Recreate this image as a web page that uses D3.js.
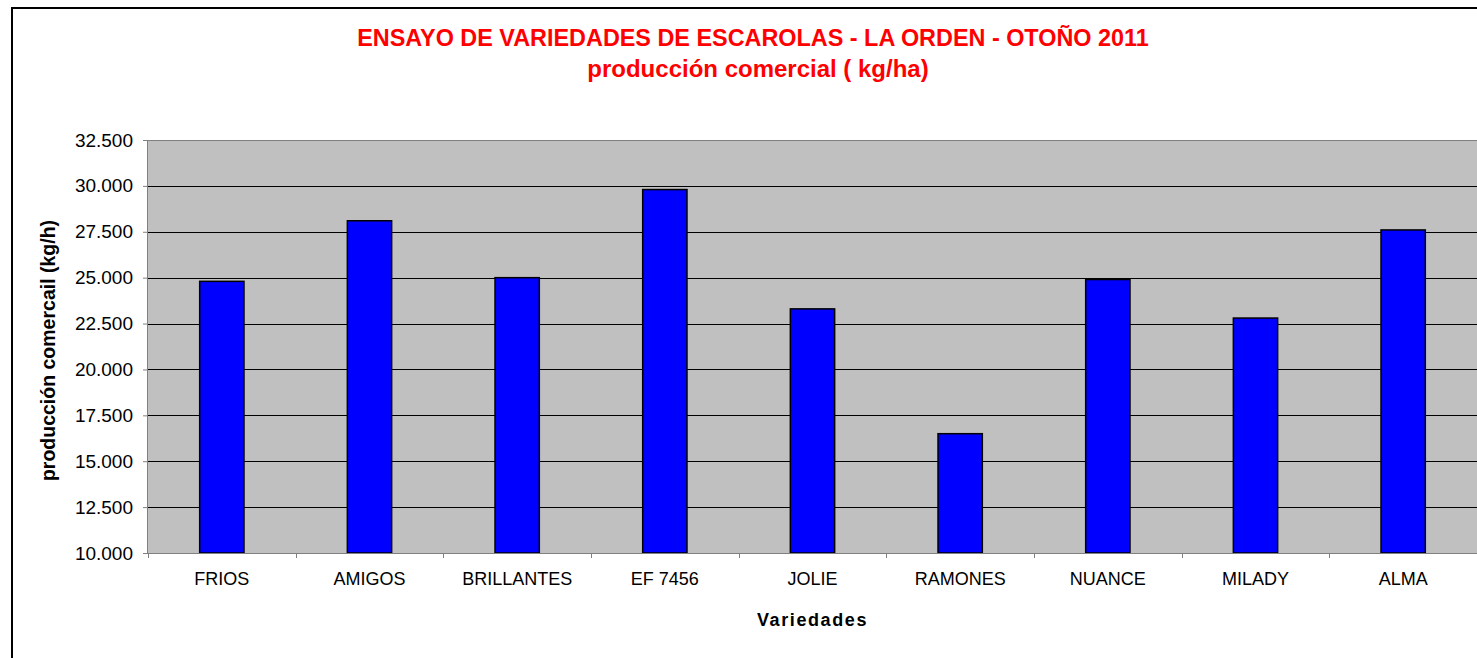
<!DOCTYPE html>
<html>
<head>
<meta charset="utf-8">
<script src="https://d3js.org/d3.v7.min.js"></script>
<style>
    body { margin: 0; background: #fff; }
    text { font-family: "Liberation Sans", Arial, sans-serif; }
</style>
</head>
<body>
<svg id="chart" width="1477" height="658"></svg>
<script>
var categories = ["FRIOS", "AMIGOS", "BRILLANTES", "EF 7456", "JOLIE", "RAMONES", "NUANCE", "MILADY", "ALMA"];
var production = [24800, 28100, 25000, 29800, 23300, 16500, 24900, 22800, 27600];
var yTicks = [10000, 12500, 15000, 17500, 20000, 22500, 25000, 27500, 30000, 32500];
var titleLines = ["ENSAYO DE VARIEDADES DE ESCAROLAS - LA ORDEN - OTOÑO 2011", "producción comercial ( kg/ha)"];

var svg = d3.select("#chart"),
    margin = {top: 140, right: 0, bottom: 105, left: 148},
    width = +svg.attr("width") - margin.left - margin.right,
    height = +svg.attr("height") - margin.top - margin.bottom;

/* outer chart frame, runs off the right and bottom edge like the original */
svg.append("rect")
    .attr("x", 12).attr("y", 8)
    .attr("width", 1480).attr("height", 670)
    .attr("fill", "#fff")
    .attr("stroke", "#000")
    .attr("stroke-width", 2);

var esFormat = d3.formatLocale({decimal: ",", thousands: ".", grouping: [3], currency: ["", ""]}).format(",.0f");

var x = d3.scaleBand()
    .domain(categories)
    .range([0, width])
    .padding(0);

var y = d3.scaleLinear()
    .domain([10000, 32500])
    .range([height, 0]);

var g = svg.append("g").attr("transform", "translate(" + margin.left + "," + margin.top + ")");

// plot area
g.append("rect")
    .attr("width", width)
    .attr("height", height)
    .attr("fill", "#c0c0c0");

// grid lines
g.append("g")
    .selectAll("line")
    .data(yTicks.slice(1, -1))
    .enter().append("line")
    .attr("x1", 0).attr("x2", width)
    .attr("y1", function(d) { return Math.round(y(d)) + 0.5; })
    .attr("y2", function(d) { return Math.round(y(d)) + 0.5; })
    .attr("stroke", "#000")
    .attr("stroke-width", 1);

g.append("line")
    .attr("x1", 0).attr("x2", width)
    .attr("y1", 0.5).attr("y2", 0.5)
    .attr("stroke", "#808080");

// bars
var barW = x.bandwidth() * 0.3;
g.append("g")
    .selectAll("rect")
    .data(production)
    .enter().append("rect")
    .attr("x", function(d, i) { return x(categories[i]) + (x.bandwidth() - barW) / 2; })
    .attr("y", function(d) { return y(d); })
    .attr("width", barW)
    .attr("height", function(d) { return height - y(d); })
    .attr("fill", "#0000ff")
    .attr("stroke", "#000")
    .attr("stroke-width", 1.5);

// y axis
var yAxis = g.append("g")
    .call(d3.axisLeft(y).tickValues(yTicks).tickFormat(esFormat).tickSize(5).tickPadding(10));
yAxis.select(".domain").attr("stroke", "#808080").attr("d", "M-0.5," + height + "V0");
yAxis.selectAll(".tick line").attr("stroke", "#808080");
yAxis.selectAll("text").attr("font-size", 19).attr("fill", "#000").attr("font-family", "Liberation Sans, Arial, sans-serif");

// x axis
var xAxis = g.append("g")
    .attr("transform", "translate(0," + height + ")")
    .call(d3.axisBottom(x).tickSize(0).tickPadding(19));
xAxis.select(".domain").attr("stroke", "#808080").attr("d", "M0,0.5H" + width);
xAxis.selectAll("text").attr("font-size", 18).attr("fill", "#000").attr("font-family", "Liberation Sans, Arial, sans-serif");

var edges = categories.map(function(c) { return x(c); }).concat([width]);
xAxis.selectAll(".edge")
    .data(edges)
    .enter().append("line")
    .attr("class", "edge")
    .attr("x1", function(d) { return Math.round(d) + 0.5; })
    .attr("x2", function(d) { return Math.round(d) + 0.5; })
    .attr("y1", 0).attr("y2", 5)
    .attr("stroke", "#808080");

// titles
svg.append("text")
    .attr("x", 753).attr("y", 46)
    .attr("text-anchor", "middle")
    .attr("font-size", 23.4)
    .attr("font-weight", "bold")
    .attr("fill", "#ff0000")
    .text(titleLines[0]);

svg.append("text")
    .attr("x", 758).attr("y", 77)
    .attr("text-anchor", "middle")
    .attr("font-size", 24)
    .attr("font-weight", "bold")
    .attr("fill", "#ff0000")
    .text(titleLines[1]);

svg.append("text")
    .attr("x", margin.left + width / 2).attr("y", 626)
    .attr("text-anchor", "middle")
    .attr("font-size", 18)
    .attr("font-weight", "bold")
    .attr("letter-spacing", 1.6)
    .text("Variedades");

svg.append("text")
    .attr("transform", "translate(55," + (margin.top + height / 2 + 4) + ") rotate(-90)")
    .attr("text-anchor", "middle")
    .attr("font-size", 19.5)
    .attr("font-weight", "bold")
    .text("producción comercail (kg/h)");
</script>
</body>
</html>
